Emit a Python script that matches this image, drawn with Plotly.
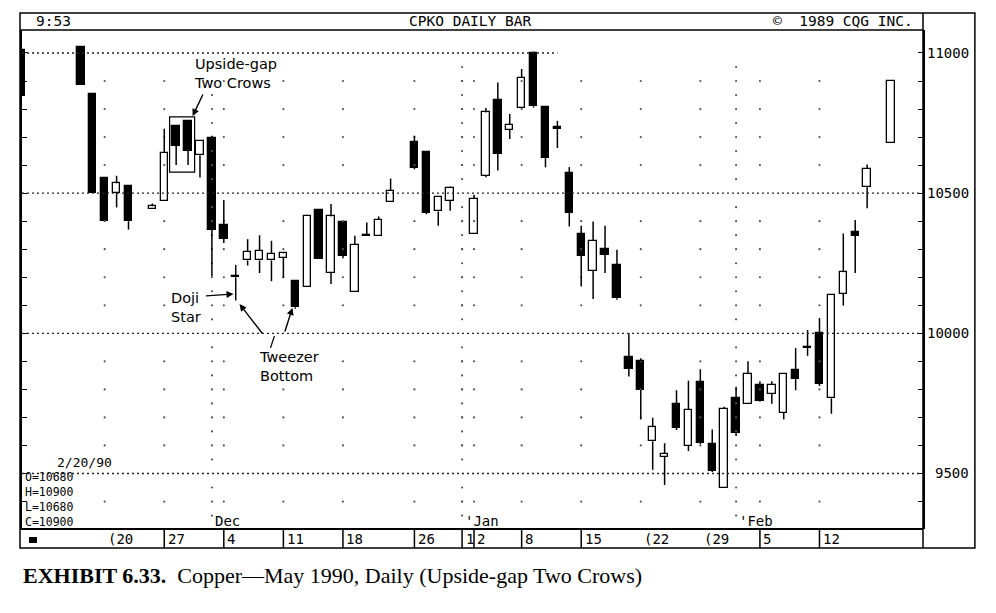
import numpy as np
import plotly.graph_objects as go

# ---------------- data ----------------
dates = ["1989-11-09", "1989-11-16", "1989-11-17", "1989-11-20", "1989-11-21", "1989-11-22",
         "1989-11-24", "1989-11-27", "1989-11-28", "1989-11-29", "1989-11-30", "1989-12-01",
         "1989-12-04", "1989-12-05", "1989-12-06", "1989-12-07", "1989-12-08", "1989-12-11",
         "1989-12-12", "1989-12-13", "1989-12-14", "1989-12-15", "1989-12-18", "1989-12-19",
         "1989-12-20", "1989-12-21", "1989-12-22", "1989-12-26", "1989-12-27", "1989-12-28",
         "1989-12-29", "1990-01-02", "1990-01-03", "1990-01-04", "1990-01-05", "1990-01-08",
         "1990-01-09", "1990-01-10", "1990-01-11", "1990-01-12", "1990-01-15", "1990-01-16",
         "1990-01-17", "1990-01-18", "1990-01-19", "1990-01-22", "1990-01-23", "1990-01-24",
         "1990-01-25", "1990-01-26", "1990-01-29", "1990-01-30", "1990-01-31", "1990-02-01",
         "1990-02-02", "1990-02-05", "1990-02-06", "1990-02-07", "1990-02-08", "1990-02-09",
         "1990-02-12", "1990-02-13", "1990-02-14", "1990-02-15", "1990-02-16", "1990-02-20"]
opens = [11010, 11020, 10852, 10555, 10500, 10525, 10443, 10473, 10739, 10757, 10635, 10695,
         10386, 10205, 10260, 10260, 10260, 10270, 10188, 10167, 10440, 10215, 10396, 10147,
         10348, 10348, 10470, 10684, 10648, 10435, 10473, 10354, 10562, 10833, 10726, 10804,
         11000, 10807, 10735, 10572, 10354, 10223, 10300, 10242, 9915, 9900, 9615, 9560,
         9749, 9598, 9825, 9604, 9450, 9770, 9749, 9817, 9785, 9716, 9868, 9952,
         10000, 9768, 10141, 10362, 10521, 10680]
highs = [11010, 11020, 10852, 10555, 10562, 10525, 10463, 10730, 10739, 10757, 10690, 10705,
         10476, 10244, 10336, 10350, 10330, 10290, 10188, 10417, 10440, 10461, 10396, 10348,
         10395, 10417, 10552, 10705, 10648, 10490, 10524, 10494, 10804, 10895, 10783, 10943,
         11005, 10807, 10758, 10593, 10384, 10399, 10384, 10298, 10000, 9911, 9699, 9608,
         9797, 9831, 9872, 9657, 9738, 9809, 9900, 9829, 9829, 9856, 9947, 10012,
         10055, 10140, 10356, 10404, 10602, 10900]
lows = [10845, 10885, 10500, 10400, 10449, 10370, 10443, 10473, 10600, 10600, 10556, 10204,
        10322, 10117, 10242, 10215, 10186, 10198, 10088, 10167, 10265, 10176, 10268, 10147,
        10348, 10348, 10470, 10585, 10425, 10384, 10437, 10354, 10557, 10581, 10693, 10804,
        10805, 10592, 10661, 10381, 10167, 10122, 10215, 10120, 9846, 9693, 9513, 9459,
        9655, 9580, 9605, 9505, 9450, 9634, 9749, 9755, 9749, 9693, 9797, 9920,
        9812, 9713, 10099, 10215, 10446, 10680]
closes = [10845, 10885, 10500, 10400, 10535, 10400, 10453, 10645, 10668, 10650, 10686, 10370,
          10338, 10200, 10290, 10295, 10283, 10285, 10093, 10417, 10265, 10417, 10277, 10316,
          10352, 10404, 10508, 10591, 10431, 10487, 10518, 10479, 10788, 10641, 10744, 10911,
          10810, 10625, 10730, 10429, 10276, 10330, 10280, 10125, 9874, 9799, 9665, 9571,
          9663, 9726, 9610, 9509, 9730, 9645, 9856, 9758, 9817, 9856, 9837, 9948,
          9821, 10138, 10218, 10347, 10586, 10900]

week_labels = ["(20", "27", "4", "11", "18", "26", "1", "2", "8", "15", "(22", "(29", "5", "12"]
week_dates = ["1989-11-20", "1989-11-27", "1989-12-04", "1989-12-11", "1989-12-18", "1989-12-26",
              "1990-01-01", "1990-01-02", "1990-01-08", "1990-01-15", "1990-01-22", "1990-01-29",
              "1990-02-05", "1990-02-12"]
month_labels = ["Dec", "'Jan", "'Feb"]
month_dates = ["1989-12-01", "1990-01-01", "1990-02-01"]
price_labels = [11000, 10500, 10000, 9500]
grid_levels = [11000, 10500, 10000, 9500]
grid_ends = ["1990-01-11", None, None, None]

# ---------------- helpers ----------------
ORIGIN = "1989-11-16"


def slot(d):
    return int(np.busday_count(ORIGIN, d))


XR = [-4.94, 70.69]
YR = [9302, 11082]
# plot area in page pixels (the page adds an 8px body margin)
L, R, T, B = 20, 923, 30, 529
PAGE_OFF = 8
FIG_W, FIG_H = 996 - PAGE_OFF, 613 - PAGE_OFF


def px(X):
    return (X - L) / (R - L)


def py(Y):
    return (B - Y) / (B - T)


def dx(X):
    return XR[0] + (X - L) / (R - L) * (XR[1] - XR[0])


def dy(Y):
    return YR[1] - (Y - T) / (B - T) * (YR[1] - YR[0])


x = np.array([slot(d) for d in dates], dtype=float)
o = np.array(opens, dtype=float)
h = np.array(highs, dtype=float)
lo = np.array(lows, dtype=float)
c = np.array(closes, dtype=float)
top = np.maximum(o, c)
bot = np.minimum(o, c)

wx, wy = [], []
for xi, hi, ti, bi, li in zip(x, h, top, bot, lo):
    if hi > ti:
        wx += [xi, xi, None]
        wy += [hi, ti, None]
    if li < bi:
        wx += [xi, xi, None]
        wy += [bi, li, None]

body_colors = ["black" if ci < oi else "white" for oi, ci in zip(o, c)]

# grid dots
dot_x, dot_y = [], []
for d in week_dates:
    for lev in range(9400, 11000, 100):
        if lev % 500:
            dot_x.append(slot(d))
            dot_y.append(lev)
for d in month_dates:
    for lev in range(9350, 11000, 50):
        if lev % 500:
            dot_x.append(slot(d))
            dot_y.append(lev)

fig = go.Figure()
fig.add_trace(go.Scatter(x=dot_x, y=dot_y, mode="markers",
                         marker=dict(size=2.2, color="#555"), hoverinfo="skip", showlegend=False))
fig.add_trace(go.Bar(x=x, y=top - bot, base=bot, width=0.62,
                     marker=dict(color=body_colors, line=dict(color="black", width=1.3)),
                     showlegend=False))
fig.add_trace(go.Scatter(x=wx, y=wy, mode="lines", line=dict(color="black", width=1.5),
                         hoverinfo="skip", showlegend=False))

shapes = []
for lev, end in zip(grid_levels, grid_ends):
    shapes.append(dict(type="line", xref="x", yref="y", x0=XR[0],
                       x1=slot(end) if end else XR[1], y0=lev, y1=lev,
                       line=dict(color="#222", width=1.3, dash="2px,3px")))
line_k = dict(color="black", width=1.5)
shapes += [
    dict(type="rect", xref="paper", yref="paper", x0=px(18), x1=px(975), y0=py(548), y1=py(13),
         line=line_k),
    dict(type="line", xref="paper", yref="paper", x0=px(18), x1=1, y0=1, y1=1, line=line_k),
    dict(type="line", xref="paper", yref="paper", x0=1, x1=1, y0=py(548), y1=py(13), line=line_k),
    dict(type="line", xref="paper", yref="paper", x0=px(18), x1=1, y0=0, y1=0,
         line=dict(color="black", width=2.2)),
    dict(type="rect", xref="paper", yref="paper", x0=px(27), x1=px(35), y0=py(543), y1=py(537),
         fillcolor="black", line=dict(width=0)),
]
for lab, d in zip(week_labels, week_dates):
    if not lab.startswith("("):
        shapes.append(dict(type="line", xref="x", yref="paper", x0=slot(d), x1=slot(d),
                           y0=py(548), y1=0, line=dict(color="black", width=1.5)))
shapes.append(dict(type="rect", xref="x", yref="y", x0=slot("1989-11-28") - 0.55,
                   x1=slot("1989-11-29") + 0.55, y0=10575, y1=10772,
                   line=dict(color="black", width=1.2)))
shapes.append(dict(type="line", xref="x", yref="y", x0=dx(269), x1=dx(273), y0=dy(348), y1=dy(336),
                   line=dict(color="black", width=1.2)))

mono = "DejaVu Sans Mono"
ann = []
for lab, d in zip(week_labels, week_dates):
    ann.append(dict(x=slot(d) + 0.12, y=py(539), xref="x", yref="paper", text=lab,
                    showarrow=False, xanchor="left", yanchor="middle",
                    font=dict(family=mono, size=14, color="black")))
for lab, d in zip(month_labels, month_dates):
    ann.append(dict(x=slot(d) + 0.1, y=py(521), xref="x", yref="paper", text=lab,
                    showarrow=False, xanchor="left", yanchor="middle",
                    font=dict(family=mono, size=14, color="black")))
for p in price_labels:
    ann.append(dict(x=px(971), y=p, xref="paper", yref="y", text=str(p), showarrow=False,
                    xanchor="right", yanchor="middle", font=dict(family=mono, size=14, color="black")))

ann += [
    dict(x=px(32), y=py(21), xref="paper", yref="paper", text="9:53", showarrow=False,
         xanchor="left", yanchor="middle", font=dict(family=mono, size=14.5, color="black")),
    dict(x=px(469), y=py(21), xref="paper", yref="paper", text="CPKO DAILY BAR", showarrow=False,
         xanchor="center", yanchor="middle", font=dict(family=mono, size=14.5, color="black")),
    dict(x=px(915), y=py(21), xref="paper", yref="paper", text="©  1989 CQG INC.", showarrow=False,
         xanchor="right", yanchor="middle", font=dict(family=mono, size=14.5, color="black")),
]

# OHLC data box for the last bar
last = dates[-1].split("-")
date_txt = "%d/%d/%s" % (int(last[1]), int(last[2]), last[0][2:])
ohlc_txt = "<br>".join(["O=%d" % opens[-1], "H=%d" % highs[-1], "L=%d" % lows[-1],
                        "C=%d" % closes[-1]])
ann.append(dict(x=px(53), y=py(462), xref="paper", yref="paper", text=date_txt, showarrow=False,
                xanchor="left", yanchor="middle", font=dict(family=mono, size=13, color="black")))
ann.append(dict(x=px(21), y=py(468), xref="paper", yref="paper", text=ohlc_txt, showarrow=False,
                xanchor="left", yanchor="top", align="left",
                font=dict(family=mono, size=11.5, color="black")))

sans = dict(family="DejaVu Sans", size=14.5, color="black")
ann += [
    dict(x=dx(190), y=dy(54), xref="x", yref="y", text="Upside-gap<br>Two Crows", showarrow=False,
         xanchor="left", yanchor="top", align="left", font=sans),
    dict(x=dx(167), y=dy(288), xref="x", yref="y", text="Doji<br>Star", showarrow=False,
         xanchor="left", yanchor="top", align="left", font=sans),
    dict(x=dx(256), y=dy(347), xref="x", yref="y", text="Tweezer<br>Bottom", showarrow=False,
         xanchor="left", yanchor="top", align="left", font=sans),
]
arrows = [((191, 116), (202, 93)), ((232, 294), (203, 296)),
          ((238, 304), (262, 335)), ((291, 308), (283, 333))]
for (hx, hy), (tx, ty) in arrows:
    ann.append(dict(x=dx(hx), y=dy(hy), xref="x", yref="y", text="", showarrow=True,
                    ax=tx - hx, ay=ty - hy, arrowhead=2, arrowsize=1, arrowwidth=1.4,
                    arrowcolor="black"))

ann.append(dict(x=px(19), y=py(575), xref="paper", yref="paper",
                text="<b>EXHIBIT 6.33.</b>  Copper\u2014May 1990, Daily (Upside-gap Two Crows)",
                showarrow=False, xanchor="left", yanchor="middle",
                font=dict(family="Liberation Serif", size=22, color="black")))

fig.update_layout(
    width=FIG_W, height=FIG_H,
    margin=dict(l=L - PAGE_OFF, r=FIG_W - (R - PAGE_OFF), t=T - PAGE_OFF, b=FIG_H - (B - PAGE_OFF)),
    paper_bgcolor="white", plot_bgcolor="white",
    bargap=0, showlegend=False,
    xaxis=dict(range=XR, showgrid=False, zeroline=False, showline=False,
               showticklabels=False, ticks="", fixedrange=True),
    yaxis=dict(range=YR, showgrid=False, zeroline=False, side="right",
               tickmode="array", tickvals=list(range(9400, 11001, 100)),
               ticktext=[""] * 17, ticks="inside", ticklen=5, tickwidth=1.2, tickcolor="black",
               showline=True, linecolor="black", linewidth=1.5, mirror="ticks", fixedrange=True),
    shapes=shapes, annotations=ann,
)

fig.write_html("out.html")
